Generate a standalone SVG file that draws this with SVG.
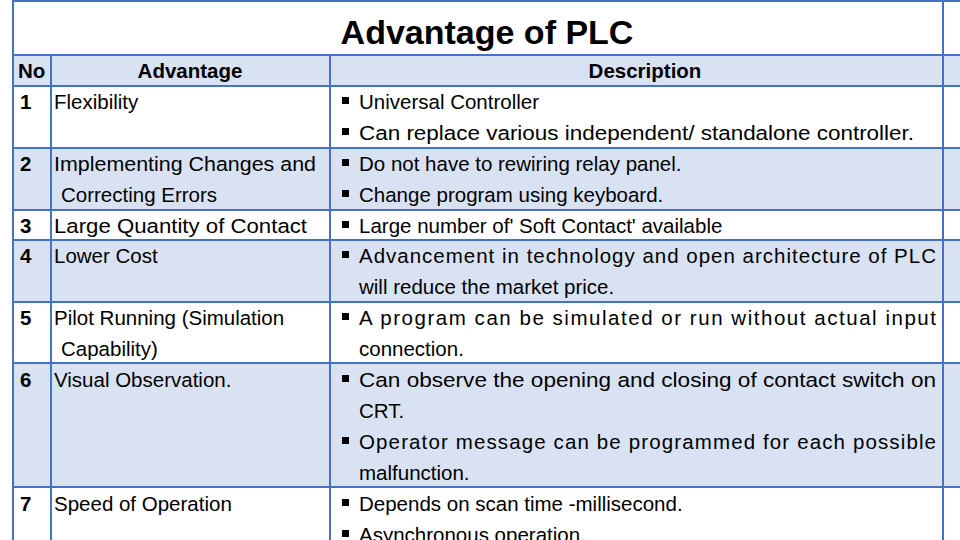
<svg xmlns="http://www.w3.org/2000/svg" width="960" height="540" viewBox="0 0 960 540">
<style>
.t{font-family:"Liberation Sans",Arial,sans-serif;font-size:20.5px;fill:#000}
.b{font-weight:bold}
.sh{fill:#D9E2F3}
.ln{stroke:#4472C4;stroke-width:2;fill:none}
.bu{fill:#000}
</style>
<rect width="960" height="540" fill="#fff"/>
<g id="shading">
<rect class="sh" x="13" y="55" width="947" height="31"/>
<rect class="sh" x="13" y="148" width="947" height="62"/>
<rect class="sh" x="13" y="240" width="947" height="62"/>
<rect class="sh" x="13" y="363" width="947" height="124"/>
</g>
<g id="grid" class="ln">
<line x1="13" y1="0" x2="13" y2="540"/>
<line x1="943" y1="0" x2="943" y2="540"/>
<line x1="13" y1="1" x2="960" y2="1"/>
<line x1="51" y1="55" x2="51" y2="540"/>
<line x1="330" y1="55" x2="330" y2="540"/>
<line x1="13" y1="55" x2="960" y2="55"/>
<line x1="13" y1="86" x2="960" y2="86"/>
<line x1="13" y1="148" x2="960" y2="148"/>
<line x1="13" y1="210" x2="960" y2="210"/>
<line x1="13" y1="240" x2="960" y2="240"/>
<line x1="13" y1="302" x2="960" y2="302"/>
<line x1="13" y1="363" x2="960" y2="363"/>
<line x1="13" y1="487" x2="960" y2="487"/>
</g>
<g id="title"><text class="t b" x="487" y="44" text-anchor="middle" style="font-size:34px">Advantage of PLC</text></g>
<g id="header">
<text class="t b" x="18" y="78">No</text>
<text class="t b" x="190" y="78" text-anchor="middle">Advantage</text>
<text class="t b" x="645" y="78" text-anchor="middle">Description</text>
</g>
<g id="nums" class="t b">
<text x="20" y="109">1</text>
<text x="20" y="171">2</text>
<text x="20" y="233">3</text>
<text x="20" y="263">4</text>
<text x="20" y="325">5</text>
<text x="20" y="387">6</text>
<text x="20" y="511">7</text>
</g>
<g id="adv" class="t">
<text x="54" y="109">Flexibility</text>
<text x="54" y="171" textLength="262" lengthAdjust="spacingAndGlyphs">Implementing Changes and</text>
<text x="61" y="202">Correcting Errors</text>
<text x="54" y="233" textLength="253" lengthAdjust="spacingAndGlyphs">Large Quantity of Contact</text>
<text x="54" y="263">Lower Cost</text>
<text x="54" y="325">Pilot Running (Simulation</text>
<text x="61" y="356">Capability)</text>
<text x="54" y="387">Visual Observation.</text>
<text x="54" y="511">Speed of Operation</text>
</g>
<g id="bullets" class="bu">
<rect x="342" y="97" width="7" height="7"/>
<rect x="342" y="128" width="7" height="7"/>
<rect x="342" y="159" width="7" height="7"/>
<rect x="342" y="190" width="7" height="7"/>
<rect x="342" y="221" width="7" height="7"/>
<rect x="342" y="251" width="7" height="7"/>
<rect x="342" y="313" width="7" height="7"/>
<rect x="342" y="375" width="7" height="7"/>
<rect x="342" y="437" width="7" height="7"/>
<rect x="342" y="499" width="7" height="7"/>
<rect x="342" y="530" width="7" height="7"/>
</g>
<g id="desc" class="t">
<text x="359" y="109">Universal Controller</text>
<text x="359" y="140" textLength="555" lengthAdjust="spacingAndGlyphs">Can  replace various independent/ standalone controller.</text>
<text x="359" y="171">Do not have to rewiring relay panel.</text>
<text x="359" y="202">Change program using keyboard.</text>
<text x="359" y="233">Large number of' Soft Contact' available</text>
<text x="359" y="263" textLength="577" lengthAdjust="spacing">Advancement in technology and open architecture of PLC</text>
<text x="359" y="294">will reduce the market price.</text>
<text x="359" y="325" textLength="577" lengthAdjust="spacing">A program can be simulated or run without actual input</text>
<text x="359" y="356">connection.</text>
<text x="359" y="387" textLength="577" lengthAdjust="spacingAndGlyphs">Can observe the opening and closing of contact switch on</text>
<text x="359" y="418">CRT.</text>
<text x="359" y="449" textLength="577" lengthAdjust="spacing">Operator message can be programmed for each possible</text>
<text x="359" y="480">malfunction.</text>
<text x="359" y="511">Depends on scan time -millisecond.</text>
<text x="359" y="542">Asynchronous operation.</text>
</g>
</svg>
